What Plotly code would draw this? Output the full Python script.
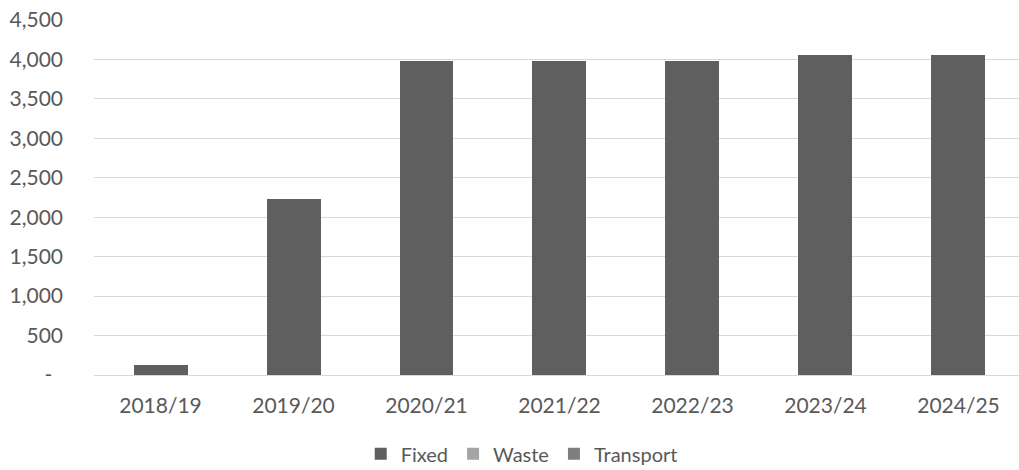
import plotly.graph_objects as go

years = ["2018/19", "2019/20", "2020/21", "2021/22", "2022/23", "2023/24", "2024/25"]
fixed = [123, 2225, 3975, 3975, 3975, 4058, 4058]
waste = [0, 0, 0, 0, 0, 0, 0]
transport = [0, 0, 0, 0, 0, 0, 0]

y_tickvals = [0, 500, 1000, 1500, 2000, 2500, 3000, 3500, 4000, 4500]
y_ticktext = ["-\u00a0\u00a0", "500", "1,000", "1,500", "2,000", "2,500", "3,000", "3,500", "4,000", "4,500"]

FONT = "Lato"
TXT = "#595959"

fig = go.Figure()
fig.add_trace(go.Bar(name="Fixed", x=years, y=fixed, marker=dict(color="#5f5f5f", line=dict(width=0))))
fig.add_trace(go.Bar(name="Waste", x=years, y=waste, marker=dict(color="#a5a5a5", line=dict(width=0))))
fig.add_trace(go.Bar(name="Transport", x=years, y=transport, marker=dict(color="#7f7f7f", line=dict(width=0))))

fig.update_layout(
    barmode="stack",
    bargap=0.594,
    width=1019, height=470,
    margin=dict(l=94, r=0, t=20, b=95, autoexpand=False),
    paper_bgcolor="white", plot_bgcolor="white",
    font=dict(family=FONT, size=21, color=TXT),
    legend=dict(orientation="h", xref="container", yref="paper",
                x=0.512, xanchor="center", y=-0.222, yanchor="middle",
                traceorder="normal",
                font=dict(family=FONT, size=20, color=TXT), itemwidth=30,
                tracegroupgap=0),
    xaxis=dict(range=[-0.5, 6.455], showgrid=False, showline=True, linecolor="#d9d9d9",
               linewidth=1, ticks="", ticklabelstandoff=12, automargin=False,
               tickfont=dict(family=FONT, size=21, color=TXT)),
    yaxis=dict(range=[0, 4500], tickvals=y_tickvals, ticktext=y_ticktext,
               showgrid=True, gridcolor="#d9d9d9", gridwidth=1, zeroline=False,
               ticks="", ticklabelstandoff=30, automargin=False,
               tickfont=dict(family=FONT, size=21, color=TXT)),
)

fig.write_html(
    "out.html",
    config={"displayModeBar": False},
    post_script="document.body.style.margin='0';document.body.style.overflow='hidden';",
)
